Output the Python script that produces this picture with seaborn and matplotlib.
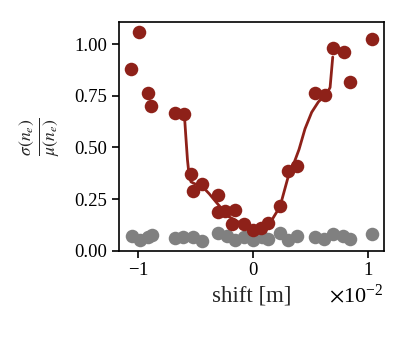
import numpy as np
import pandas as pd
import matplotlib
matplotlib.use("Agg")
import matplotlib.pyplot as plt
import seaborn as sns

# red series: relative spread of n_e vs shift (x in units of 1e-2 m)
red_x = [-1.061, -0.991, -0.916, -0.887, -0.678, -0.597, -0.536, -0.525, -0.443,
         -0.301, -0.306, -0.240, -0.157, -0.180, -0.075, 0.003, 0.068, 0.133,
         0.235, 0.301, 0.383, 0.539, 0.626, 0.699, 0.794, 0.841, 1.032]
red_y = [0.879, 1.056, 0.765, 0.702, 0.665, 0.660, 0.373, 0.291, 0.325,
         0.270, 0.189, 0.193, 0.197, 0.127, 0.127, 0.099, 0.110, 0.132,
         0.214, 0.388, 0.412, 0.765, 0.754, 0.982, 0.960, 0.818, 1.024]

# gray series
gray_x = [-1.055, -0.983, -0.910, -0.876, -0.678, -0.606, -0.525, -0.446,
          -0.301, -0.229, -0.157, -0.078, 0.003, 0.075, 0.133, 0.235,
          0.301, 0.380, 0.539, 0.617, 0.699, 0.786, 0.843, 1.032]
gray_y = [0.069, 0.053, 0.064, 0.077, 0.061, 0.064, 0.064, 0.048,
          0.085, 0.069, 0.053, 0.064, 0.053, 0.064, 0.058, 0.085,
          0.053, 0.069, 0.064, 0.058, 0.081, 0.069, 0.058, 0.081]

# smooth red curve
line_x = [-0.597, -0.585, -0.570, -0.555, -0.539, -0.500, -0.446, -0.380, -0.316,
          -0.215, -0.084, 0.032, 0.148, 0.235, 0.322, 0.360, 0.400, 0.452, 0.510,
          0.568, 0.641, 0.670, 0.693]
line_y = [0.660, 0.560, 0.440, 0.360, 0.333, 0.322, 0.314, 0.275, 0.232,
          0.166, 0.126, 0.110, 0.134, 0.214, 0.391, 0.430, 0.490, 0.590, 0.670,
          0.720, 0.760, 0.790, 0.937]

RED = "#8e2119"
GRAY = "#808080"

sns.set_style("ticks")
plt.rcParams["font.family"] = ["Liberation Serif", "DejaVu Serif"]
plt.rcParams["mathtext.fontset"] = "stix"
plt.rcParams["font.size"] = 13

red = pd.DataFrame({"x": np.array(red_x) * 1e-2, "y": red_y})
gray = pd.DataFrame({"x": np.array(gray_x) * 1e-2, "y": gray_y})
line = pd.DataFrame({"x": np.array(line_x) * 1e-2, "y": line_y})

fig = plt.figure(figsize=(4.07, 3.39), dpi=100)
ax = fig.add_axes([0.293, 0.2605, 0.65, 0.6735])

sns.scatterplot(data=gray, x="x", y="y", color=GRAY, s=95, linewidth=0, ax=ax, zorder=2)
sns.lineplot(data=line, x="x", y="y", color=RED, lw=2, sort=False, estimator=None, ax=ax, zorder=3)
sns.scatterplot(data=red, x="x", y="y", color=RED, s=95, linewidth=0, ax=ax, zorder=4)

ax.set_xlim(-1.163e-2, 1.137e-2)
ax.set_ylim(0, 1.105)
ax.set_yticks([0, 0.25, 0.5, 0.75, 1.0])
ax.set_xticks([-1e-2, 0, 1e-2])
ax.ticklabel_format(axis="x", style="sci", scilimits=(0, 0), useMathText=True)
ax.xaxis.get_offset_text().set_fontsize(16)
ax.set_xlabel("shift [m]", fontsize=16.5, labelpad=4)
ax.set_ylabel(r"$\frac{\sigma(n_e)}{\mu(n_e)}$", fontsize=18, labelpad=8)
ax.tick_params(direction="out", length=5, width=1.2, labelsize=13.5, colors="black")
for sp in ax.spines.values():
    sp.set_visible(True)
    sp.set_linewidth(1.2)
    sp.set_color("black")

fig.savefig("out.png", dpi=100)
